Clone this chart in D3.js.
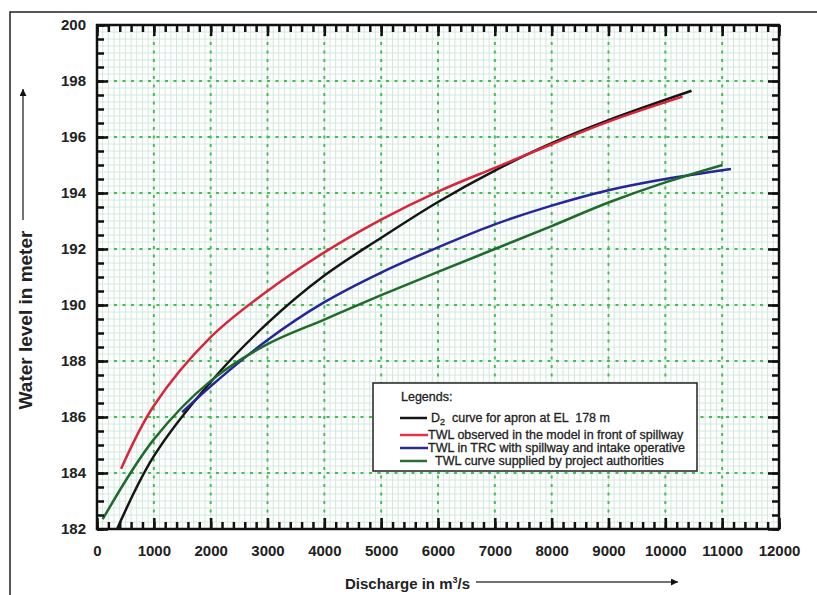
<!DOCTYPE html>
<html>
<head>
<meta charset="utf-8">
<script src="https://cdn.jsdelivr.net/npm/d3@7"></script>
<style>
  body { margin: 0; background: #fff; }
  svg { display: block; font-family: "Liberation Sans", Arial, sans-serif; }
</style>
</head>
<body>
<div id="chart"></div>
<script>
// axis ticks
var xTicks = [0, 1000, 2000, 3000, 4000, 5000, 6000, 7000, 8000, 9000, 10000, 11000, 12000];
var yTicks = [182, 184, 186, 188, 190, 192, 194, 196, 198, 200];

// D2 curve for apron at EL 178 m
var d2Q = [353, 1000, 2000, 3000, 4000, 5000, 6000, 7000, 8000, 9000, 10461];
var d2L = [182.0, 184.6, 187.25, 189.35, 191.05, 192.4, 193.68, 194.8, 195.78, 196.6, 197.65];

// TWL observed in the model in front of spillway
var redQ = [424, 1000, 2000, 3000, 4000, 5000, 6000, 7000, 8000, 9000, 10303];
var redL = [184.15, 186.4, 188.85, 190.5, 191.88, 193.05, 194.05, 194.9, 195.74, 196.55, 197.44];

// TWL in TRC with spillway and intake operative
var blueQ = [1500, 2000, 3000, 4000, 5000, 6000, 7000, 8000, 9000, 10000, 11154];
var blueL = [186.17, 187.1, 188.75, 190.1, 191.16, 192.06, 192.88, 193.55, 194.1, 194.5, 194.86];

// TWL curve supplied by project authorities
var greenQ = [100, 1000, 2000, 3000, 4000, 5000, 6000, 7000, 8000, 9000, 10000, 11008];
var greenL = [182.35, 185.2, 187.29, 188.6, 189.48, 190.35, 191.18, 192.0, 192.82, 193.66, 194.38, 195.0];

var series = [
  { q: d2Q, l: d2L, color: "#151515" },
  { q: redQ, l: redL, color: "#d8253b" },
  { q: blueQ, l: blueL, color: "#26259a" },
  { q: greenQ, l: greenL, color: "#1f6b2c" }
];

var W = 817, H = 595;
var mLeft = 97, mTop = 25, mRight = 779, mBottom = 529;

var svg = d3.select("#chart").append("svg")
    .attr("width", W)
    .attr("height", H);

// outer frame
svg.append("rect")
    .attr("x", 10).attr("y", 12)
    .attr("width", 840).attr("height", 620)
    .attr("fill", "none")
    .attr("stroke", "#222")
    .attr("stroke-width", 1.5);

var x = d3.scaleLinear().domain([0, 12000]).range([mLeft, mRight]);
var y = d3.scaleLinear().domain([182, 200]).range([mBottom, mTop]);

// light grid
var grid = svg.append("g");
grid.selectAll(".vg").data(d3.range(100, 12000, 100)).enter().append("line")
    .attr("x1", function(d) { return x(d); })
    .attr("x2", function(d) { return x(d); })
    .attr("y1", mTop).attr("y2", mBottom)
    .attr("stroke", "#d2e8dc").attr("stroke-width", 1);
grid.selectAll(".hg").data(d3.range(182.25, 200, 0.25)).enter().append("line")
    .attr("y1", function(d) { return y(d); })
    .attr("y2", function(d) { return y(d); })
    .attr("x1", mLeft).attr("x2", mRight)
    .attr("stroke", "#d2e8dc").attr("stroke-width", 1);

// dotted major grid
grid.selectAll(".vm").data(xTicks.slice(1, -1)).enter().append("line")
    .attr("x1", function(d) { return x(d); })
    .attr("x2", function(d) { return x(d); })
    .attr("y1", mTop).attr("y2", mBottom)
    .attr("stroke", "#48bd55").attr("stroke-width", 2)
    .attr("stroke-dasharray", "3,5.5");
grid.selectAll(".hm").data(yTicks.slice(1, -1)).enter().append("line")
    .attr("y1", function(d) { return y(d); })
    .attr("y2", function(d) { return y(d); })
    .attr("x1", mLeft).attr("x2", mRight)
    .attr("stroke", "#48bd55").attr("stroke-width", 2)
    .attr("stroke-dasharray", "3,5.5");

// curves
var line = d3.line()
    .x(function(d) { return x(d[0]); })
    .y(function(d) { return y(d[1]); })
    .curve(d3.curveCatmullRom.alpha(0.5));

series.forEach(function(s) {
  svg.append("path")
      .datum(s.q.map(function(q, i) { return [q, s.l[i]]; }))
      .attr("d", line)
      .attr("fill", "none")
      .attr("stroke", s.color)
      .attr("stroke-width", 2.5)
      .attr("stroke-linecap", "butt");
});

// axes with inward ticks
function styleAxis(g) {
  g.select(".domain").remove();
  g.selectAll("line").attr("stroke", "#111").attr("stroke-width", 2.5);
  g.selectAll("text")
      .attr("fill", "#222")
      .style("font-size", "15px")
      .style("font-weight", "bold");
}

var xMinor = d3.range(0, 12001, 200);
var yMinor = d3.range(182, 200.01, 0.5);

svg.append("g").attr("transform", "translate(0," + mBottom + ")")
    .call(d3.axisBottom(x).tickValues(xMinor).tickSize(-7).tickFormat(""))
    .call(styleAxis);
svg.append("g").attr("transform", "translate(0," + mBottom + ")")
    .call(d3.axisBottom(x).tickValues(xTicks).tickSize(-11).tickPadding(16).tickFormat(d3.format("d")))
    .call(styleAxis);
svg.append("g").attr("transform", "translate(0," + mTop + ")")
    .call(d3.axisTop(x).tickValues(xMinor).tickSize(-7).tickFormat(""))
    .call(styleAxis);
svg.append("g").attr("transform", "translate(0," + mTop + ")")
    .call(d3.axisTop(x).tickValues(xTicks).tickSize(-11).tickFormat(""))
    .call(styleAxis);

svg.append("g").attr("transform", "translate(" + mLeft + ",0)")
    .call(d3.axisLeft(y).tickValues(yMinor).tickSize(-7).tickFormat(""))
    .call(styleAxis);
svg.append("g").attr("transform", "translate(" + mLeft + ",0)")
    .call(d3.axisLeft(y).tickValues(yTicks).tickSize(-11).tickPadding(11).tickFormat(d3.format("d")))
    .call(styleAxis);
svg.append("g").attr("transform", "translate(" + mRight + ",0)")
    .call(d3.axisRight(y).tickValues(yMinor).tickSize(-7).tickFormat(""))
    .call(styleAxis);
svg.append("g").attr("transform", "translate(" + mRight + ",0)")
    .call(d3.axisRight(y).tickValues(yTicks).tickSize(-11).tickFormat(""))
    .call(styleAxis);

// plot frame
svg.append("rect")
    .attr("x", mLeft).attr("y", mTop)
    .attr("width", mRight - mLeft).attr("height", mBottom - mTop)
    .attr("fill", "none")
    .attr("stroke", "#111")
    .attr("stroke-width", 2.5);

// arrowheads
var defs = svg.append("defs");
defs.append("marker")
    .attr("id", "arrow")
    .attr("viewBox", "0 0 10 10")
    .attr("refX", 10).attr("refY", 5)
    .attr("markerWidth", 9).attr("markerHeight", 7)
    .attr("markerUnits", "userSpaceOnUse")
    .attr("orient", "auto")
    .append("path")
    .attr("d", "M0,0 L10,5 L0,10 z")
    .attr("fill", "#111");

// axis titles
svg.append("text")
    .attr("transform", "translate(32,320) rotate(-90)")
    .attr("text-anchor", "middle")
    .style("font-size", "19px")
    .style("font-weight", "bold")
    .attr("fill", "#222")
    .text("Water level in meter");
svg.append("line")
    .attr("x1", 23).attr("x2", 23)
    .attr("y1", 220).attr("y2", 89)
    .attr("stroke", "#444").attr("stroke-width", 1.5)
    .attr("marker-end", "url(#arrow)");

var xt = svg.append("text")
    .attr("x", 345).attr("y", 589)
    .style("font-size", "15px")
    .style("font-weight", "bold")
    .attr("fill", "#222");
xt.append("tspan").text("Discharge in m");
xt.append("tspan").attr("dy", -6).style("font-size", "9px").text("3");
xt.append("tspan").attr("dy", 6).text("/s");
svg.append("line")
    .attr("x1", 476).attr("x2", 678)
    .attr("y1", 582).attr("y2", 582)
    .attr("stroke", "#444").attr("stroke-width", 1.5)
    .attr("marker-end", "url(#arrow)");

// legend
var lg = svg.append("g");
lg.append("rect")
    .attr("x", 373).attr("y", 383)
    .attr("width", 324).attr("height", 88)
    .attr("fill", "#fff")
    .attr("stroke", "#222")
    .attr("stroke-width", 1.5);
lg.append("text")
    .attr("x", 401).attr("y", 401)
    .style("font-size", "12.5px")
    .attr("fill", "#222")
    .attr("stroke", "#222").attr("stroke-width", 0.3)
    .text("Legends:");

var legendItems = [
  { color: "#151515", y: 418, x0: 400, x1: 427, tx: 431, label: "D2" },
  { color: "#e0334a", y: 435, x0: 400, x1: 428, tx: 428, label: "TWL observed in the model in front of spillway" },
  { color: "#2b2b8f", y: 448, x0: 400, x1: 428, tx: 428, label: "TWL in TRC with spillway and intake operative" },
  { color: "#2e6b3a", y: 461, x0: 400, x1: 427, tx: 435, label: "TWL curve supplied by project authorities" }
];
legendItems.forEach(function(d) {
  lg.append("line")
      .attr("x1", d.x0).attr("x2", d.x1)
      .attr("y1", d.y).attr("y2", d.y)
      .attr("stroke", d.color).attr("stroke-width", 2.5);
  var t = lg.append("text")
      .attr("x", d.tx).attr("y", d.y + 4)
      .style("font-size", "12.5px")
      .attr("fill", "#222")
      .attr("stroke", "#222").attr("stroke-width", 0.3);
  if (d.label === "D2") {
    t.append("tspan").text("D");
    t.append("tspan").attr("dy", 3).style("font-size", "9px").text("2");
    t.append("tspan").attr("dy", -3).attr("xml:space", "preserve").text("  curve for apron at EL  178 m");
  } else {
    t.text(d.label);
  }
});
</script>
</body>
</html>
